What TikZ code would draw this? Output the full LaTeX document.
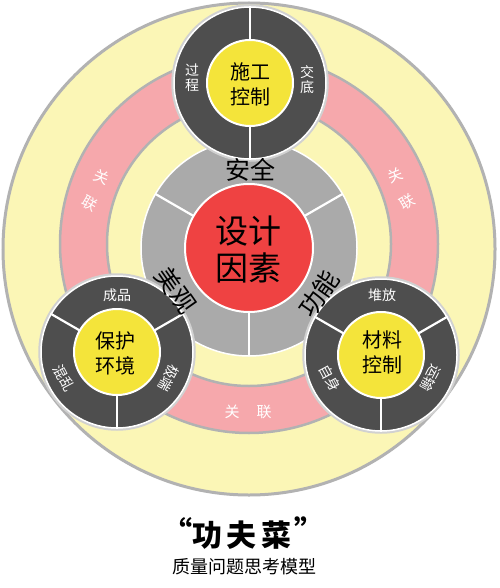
\documentclass[tikz,border=0pt]{standalone}
\usepackage{fontspec}
\setmainfont{Noto Sans CJK SC}
\definecolor{lightyel}{RGB}{251,246,182}
\definecolor{bordgray}{RGB}{178,178,178}
\definecolor{pinkring}{RGB}{246,168,172}
\definecolor{darkring}{RGB}{78,78,78}
\definecolor{sunyel}{RGB}{244,228,58}
\definecolor{redcore}{RGB}{239,66,66}
\definecolor{midgray}{RGB}{170,170,170}
\tikzset{
  divline/.style={white, line width=2.2pt},
  satlabel/.style={text=white, font=\fontsize{14}{15}\selectfont, inner sep=0pt, align=center},
  corelabel/.style={text=black, font=\fontsize{20}{25}\selectfont, inner sep=0pt, align=center},
  ringlabel/.style={text=black, font=\fontsize{25}{27}\selectfont, inner sep=0pt},
  pinklabel/.style={text=white, font=\fontsize{15}{16}\selectfont, inner sep=0pt},
  quote/.style={font=\fontsize{30}{32}\selectfont\bfseries, inner sep=0pt},
}
\begin{document}
\begin{tikzpicture}[x=1pt,y=-1pt]
\useasboundingbox (0,0) rectangle (499,588);
\fill[white] (0,0) rectangle (499,588);
% centres
\coordinate (M) at (249,248);
\coordinate (O) at (249,249);
\coordinate (P) at (249,244);
\coordinate (T) at (250,83);
\coordinate (L) at (117,352);
\coordinate (R) at (381,355);
% outer disc
\filldraw[fill=lightyel, draw=bordgray, line width=3pt] (O) circle[radius=246pt];
% pink ring
\fill[pinkring, even odd rule] (P) circle[radius=189pt] (P) circle[radius=142pt];
\draw[bordgray, line width=2.5pt] (P) circle[radius=189pt];
\draw[bordgray, line width=2.5pt] (P) circle[radius=142pt];
% central ring
\filldraw[fill=midgray, draw=white, line width=1.5pt] (M) circle[radius=108pt];
\foreach \a in {30,150,270} \draw[divline] (M) ++(\a:62pt) -- ++(\a:46pt);
\filldraw[fill=redcore, draw=white, line width=2pt] (M) circle[radius=64pt];
% satellites
\foreach \c in {T,L,R}{
  \draw[bordgray!60, line width=3.5pt] (\c) circle[radius=77pt];
  \filldraw[fill=darkring, draw=white, line width=1.5pt] (\c) circle[radius=76pt];
}
\foreach \a in {90,270} \draw[divline] (T) ++(\a:42pt) -- ++(\a:35pt);
\foreach \a in {30,150,270} \draw[divline] (L) ++(\a:42pt) -- ++(\a:35pt);
\foreach \a in {30,150,270} \draw[divline] (R) ++(\a:42pt) -- ++(\a:35pt);
\foreach \c in {T,L,R}
  \filldraw[fill=sunyel, draw=white, line width=2pt] (\c) circle[radius=43pt];
% core texts
\node[text=black, font=\fontsize{33}{37}\selectfont, inner sep=0pt, align=center] (core) at (248,249) {设计\\因素};
\node[ringlabel] (anquan) at (250,170) {安全};
\node[ringlabel, rotate=-55] (meiguan) at (176,290) {美观};
\node[ringlabel, rotate=55] (gongneng) at (319,294) {功能};
% satellite texts
\node[corelabel] (shigong) at (250,84) {施工\\控制};
\node[corelabel] (baohu) at (115,353) {保护\\环境};
\node[corelabel] (cailiao) at (382,352) {材料\\控制};
\node[satlabel] (guocheng) at (192,78) {过\\程};
\node[satlabel] (jiaodi) at (307,80) {交\\底};
\node[satlabel] (chengpin) at (117,295) {成品};
\node[satlabel, rotate=-62] (hunluan) at (64,378) {混乱};
\node[satlabel, rotate=-118] (jiduan) at (169,378) {极端};
\node[satlabel] (duifang) at (382,295) {堆放};
\node[satlabel, rotate=-62] (zishen) at (330,378) {自身};
\node[satlabel, rotate=-118] (yunshu) at (431,378) {运输};
% pink labels
\node[pinklabel, rotate=-22] (g1) at (102,177) {关};
\node[pinklabel, rotate=-30] (l1) at (90,203) {联};
\node[pinklabel, rotate=22] (g2) at (395,175) {关};
\node[pinklabel, rotate=30] (l2) at (407,202) {联};
\node[pinklabel] (g3) at (232,412) {关};
\node[pinklabel] (l3) at (264,412) {联};
% title
\node[quote] (title) at (242,535) {功\hspace{5pt}夫\hspace{5pt}菜};
\node[quote] (q1) at (177,530) {“};
\node[quote] (q2) at (309,530) {”};
\node[font=\fontsize{18}{20}\selectfont, inner sep=0pt] (sub) at (244,567) {质量问题思考模型};
\end{tikzpicture}
\end{document}
